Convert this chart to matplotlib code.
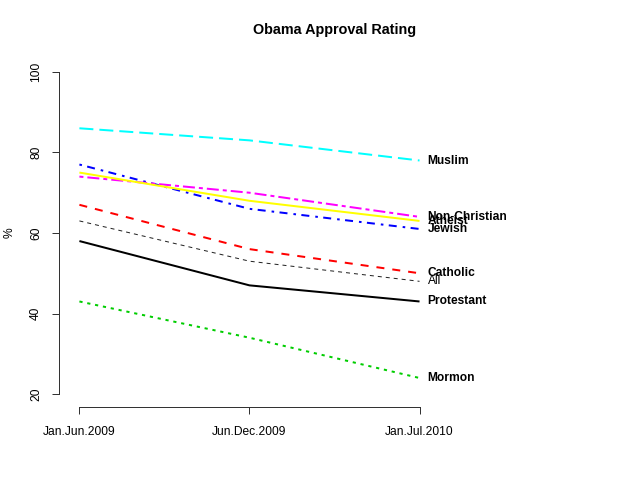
import matplotlib
matplotlib.use("Agg")
import matplotlib.pyplot as plt

periods = ["Jan.Jun.2009", "Jun.Dec.2009", "Jan.Jul.2010"]
groups = ["Protestant", "Catholic", "Mormon", "Jewish", "Muslim", "Non-Christian", "Atheist", "All"]
protestant = [58, 47, 43]
catholic = [67, 56, 50]
mormon = [43, 34, 24]
jewish = [77, 66, 61]
muslim = [86, 83, 78]
non_christian = [74, 70, 64]
atheist = [75, 68, 63]
all_ = [63, 53, 48]
series = [protestant, catholic, mormon, jewish, muslim, non_christian, atheist, all_]

colors = ["black", "#FF0000", "#00CD00", "#0000FF", "#00FFFF", "#FF00FF", "#FFFF00", "#222222"]
dashes = [None, (4, 4), (1.6, 2.4), (1.3, 2.7, 4, 3), (7, 3), (2, 2, 6, 2), None, (4, 4)]
lws = [2, 2, 2, 2, 2, 2, 2, 1]
weights = ["bold"] * 7 + ["normal"]

plt.rcParams['font.family'] = ['Liberation Sans', 'DejaVu Sans']
px = 0.72  # points per pixel at dpi 100

fig = plt.figure(figsize=(6.4, 4.8), dpi=100)
ax = fig.add_axes([59/640, 73/480, (610-59)/640, (407-59)/480])
x = [1, 2, 3]
for vals, c, d, lw, name, w in zip(series, colors, dashes, lws, groups, weights):
    ln, = ax.plot(x, vals, color=c, lw=lw*px, solid_capstyle='butt')
    if d is not None:
        ln.set_dashes(d)
        ln.set_dash_capstyle('butt')
    ax.text(3.047, vals[-1], name, fontsize=12*px, fontweight=w, va='center', ha='left', color='black')

ax.set_xlim(1 - 0.04*3, 4 + 0.04*3)
ax.set_ylim(20 - 0.04*80, 100 + 0.04*80)
for s in ['top', 'right']:
    ax.spines[s].set_visible(False)
ax.spines['left'].set_bounds(20, 100)
ax.spines['bottom'].set_bounds(1, 3)
for s in ['left', 'bottom']:
    ax.spines[s].set_linewidth(1*px)
    ax.spines[s].set_color('#333333')
ax.set_xticks(x)
ax.set_xticklabels(periods)
ax.set_yticks([20, 40, 60, 80, 100])
ax.set_yticklabels(["20", "40", "60", "80", "100"], rotation=90, va='center')
ax.tick_params(axis='both', direction='out', length=7*px, width=1*px, colors='#333333', labelcolor='black', labelsize=12*px)
ax.tick_params(axis='x', pad=12*px)
ax.tick_params(axis='y', pad=10*px)
ax.set_ylabel("%", fontsize=12*px, labelpad=10)
fig.text((59+610)/2/640, 1 - 30/480, "Obama Approval Rating", ha='center', va='center', fontsize=14.4*px, fontweight='bold')
fig.savefig("out.png", dpi=100)
